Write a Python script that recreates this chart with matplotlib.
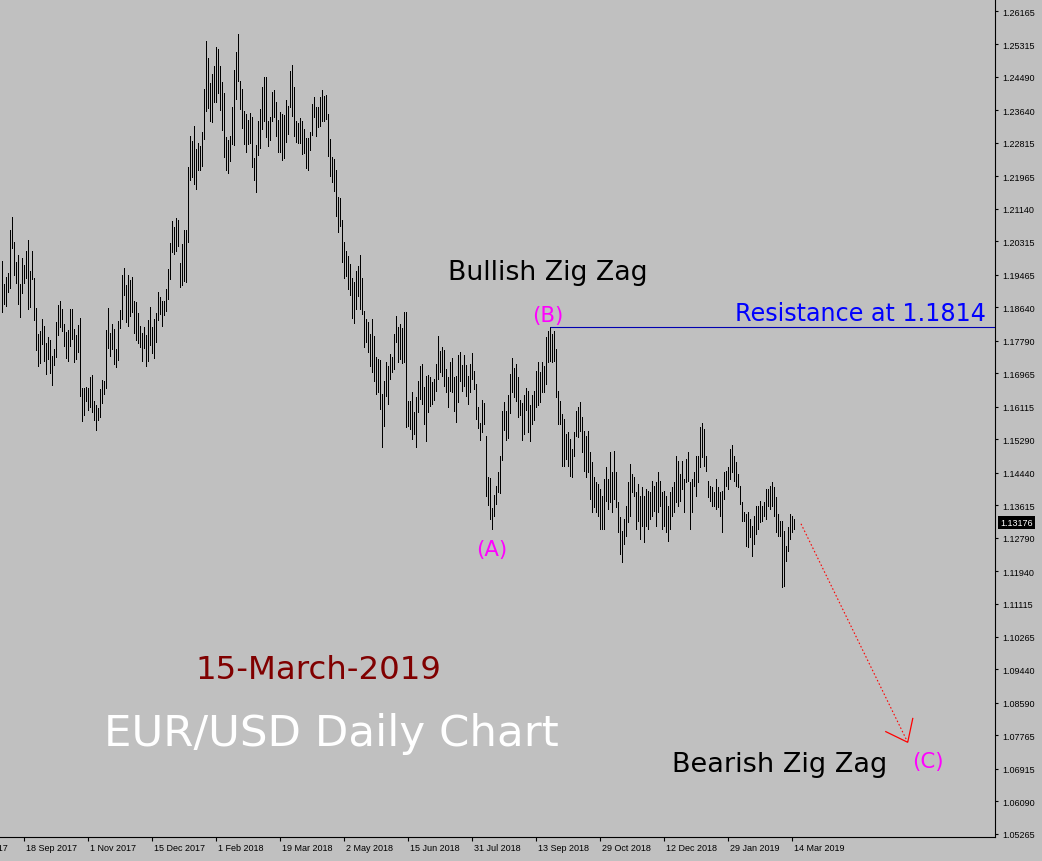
import numpy as np
import matplotlib
matplotlib.use("Agg")
import matplotlib.pyplot as plt
from matplotlib.transforms import ScaledTranslation, blended_transform_factory

# ---------------- data (daily bars, EUR/USD) ----------------
highs = [
    1.1982, 1.1923, 1.1941, 1.1951, 1.2060, 1.2094, 1.2029, 1.1979, 1.1997, 1.1923,
    1.1989, 1.1972, 1.2007, 1.2034, 1.1956, 1.2007, 1.1938, 1.1862, 1.1796, 1.1804,
    1.1834, 1.1816, 1.1773, 1.1789, 1.1780, 1.1740, 1.1758, 1.1826, 1.1870, 1.1880,
    1.1860, 1.1821, 1.1801, 1.1806, 1.1860, 1.1860, 1.1809, 1.1794, 1.1819, 1.1837,
    1.1659, 1.1659, 1.1662, 1.1659, 1.1687, 1.1692, 1.1626, 1.1616, 1.1608, 1.1656,
    1.1679, 1.1677, 1.1806, 1.1862, 1.1799, 1.1821, 1.1809, 1.1758, 1.1829, 1.1857,
    1.1946, 1.1964, 1.1921, 1.1946, 1.1933, 1.1941, 1.1880, 1.1877, 1.1850, 1.1816,
    1.1799, 1.1814, 1.1794, 1.1832, 1.1865, 1.1814, 1.1834, 1.1850, 1.1902, 1.1890,
    1.1880, 1.1880, 1.1910, 1.1961, 1.2027, 1.2083, 1.2068, 1.2091, 1.2086, 1.1977,
    1.2024, 1.2060, 1.2060, 1.2221, 1.2299, 1.2286, 1.2324, 1.2266, 1.2281, 1.2273,
    1.2309, 1.2418, 1.2540, 1.2497, 1.2434, 1.2456, 1.2477, 1.2525, 1.2520, 1.2477,
    1.2436, 1.2408, 1.2297, 1.2289, 1.2299, 1.2373, 1.2467, 1.2512, 1.2558, 1.2439,
    1.2418, 1.2363, 1.2355, 1.2340, 1.2358, 1.2348, 1.2243, 1.2276, 1.2337, 1.2368,
    1.2424, 1.2449, 1.2449, 1.2337, 1.2348, 1.2410, 1.2416, 1.2385, 1.2340, 1.2360,
    1.2355, 1.2353, 1.2390, 1.2375, 1.2464, 1.2480, 1.2424, 1.2337, 1.2332, 1.2345,
    1.2337, 1.2317, 1.2294, 1.2294, 1.2309, 1.2380, 1.2398, 1.2373, 1.2373, 1.2398,
    1.2416, 1.2400, 1.2403, 1.2355, 1.2291, 1.2246, 1.2241, 1.2212, 1.2144, 1.2141,
    1.2086, 1.2029, 1.2007, 1.1994, 1.1974, 1.1938, 1.1928, 1.1956, 1.1969, 1.1997,
    1.1938, 1.1855, 1.1834, 1.1826, 1.1796, 1.1834, 1.1791, 1.1738, 1.1733, 1.1730,
    1.1643, 1.1677, 1.1725, 1.1715, 1.1745, 1.1738, 1.1796, 1.1842, 1.1814, 1.1821,
    1.1811, 1.1852, 1.1852, 1.1626, 1.1626, 1.1648, 1.1598, 1.1636, 1.1677, 1.1715,
    1.1720, 1.1662, 1.1689, 1.1692, 1.1687, 1.1674, 1.1682, 1.1720, 1.1791, 1.1753,
    1.1763, 1.1755, 1.1707, 1.1687, 1.1725, 1.1735, 1.1687, 1.1689, 1.1743, 1.1750,
    1.1718, 1.1743, 1.1718, 1.1689, 1.1720, 1.1748, 1.1702, 1.1669, 1.1611, 1.1570,
    1.1628, 1.1621, 1.1537, 1.1433, 1.1430, 1.1354, 1.1387, 1.1410, 1.1445, 1.1486,
    1.1601, 1.1623, 1.1601, 1.1641, 1.1694, 1.1735, 1.1710, 1.1720, 1.1687, 1.1628,
    1.1621, 1.1641, 1.1659, 1.1651, 1.1616, 1.1641, 1.1651, 1.1702, 1.1725, 1.1699,
    1.1725, 1.1715, 1.1789, 1.1804, 1.1814, 1.1796, 1.1804, 1.1758, 1.1651, 1.1626,
    1.1593, 1.1580, 1.1542, 1.1547, 1.1529, 1.1504, 1.1547, 1.1601, 1.1611, 1.1623,
    1.1586, 1.1550, 1.1537, 1.1550, 1.1496, 1.1471, 1.1433, 1.1420, 1.1415, 1.1402,
    1.1384, 1.1428, 1.1458, 1.1428, 1.1496, 1.1445, 1.1499, 1.1445, 1.1369, 1.1332,
    1.1296, 1.1326, 1.1359, 1.1420, 1.1466, 1.1440, 1.1433, 1.1394, 1.1415, 1.1384,
    1.1408, 1.1384, 1.1402, 1.1397, 1.1394, 1.1423, 1.1410, 1.1420, 1.1445, 1.1423,
    1.1394, 1.1397, 1.1384, 1.1359, 1.1394, 1.1408, 1.1420, 1.1486, 1.1474, 1.1440,
    1.1474, 1.1428, 1.1479, 1.1496, 1.1420, 1.1428, 1.1445, 1.1486, 1.1486, 1.1560,
    1.1570, 1.1555, 1.1486, 1.1423, 1.1410, 1.1408, 1.1394, 1.1428, 1.1408, 1.1394,
    1.1397, 1.1445, 1.1448, 1.1458, 1.1504, 1.1514, 1.1486, 1.1471, 1.1440, 1.1410,
    1.1369, 1.1344, 1.1339, 1.1344, 1.1326, 1.1308, 1.1334, 1.1359, 1.1359, 1.1372,
    1.1359, 1.1369, 1.1402, 1.1402, 1.1410, 1.1420, 1.1408, 1.1382, 1.1339, 1.1321,
    1.1321, 1.1296, 1.1257, 1.1306, 1.1339, 1.1334, 1.1326,
]

lows = [
    1.1852, 1.1872, 1.1867, 1.1902, 1.1913, 1.2014, 1.1946, 1.1926, 1.1872, 1.1840,
    1.1900, 1.1926, 1.1938, 1.1860, 1.1865, 1.1936, 1.1832, 1.1755, 1.1715, 1.1723,
    1.1770, 1.1728, 1.1694, 1.1733, 1.1697, 1.1667, 1.1718, 1.1738, 1.1794, 1.1814,
    1.1804, 1.1765, 1.1735, 1.1728, 1.1765, 1.1783, 1.1725, 1.1733, 1.1750, 1.1638,
    1.1575, 1.1591, 1.1626, 1.1603, 1.1611, 1.1598, 1.1577, 1.1552, 1.1577, 1.1586,
    1.1621, 1.1643, 1.1659, 1.1760, 1.1740, 1.1758, 1.1720, 1.1713, 1.1730, 1.1811,
    1.1834, 1.1895, 1.1826, 1.1816, 1.1842, 1.1852, 1.1799, 1.1780, 1.1773, 1.1763,
    1.1728, 1.1760, 1.1715, 1.1728, 1.1768, 1.1748, 1.1735, 1.1775, 1.1832, 1.1847,
    1.1816, 1.1845, 1.1855, 1.1885, 1.1936, 1.2004, 1.1999, 1.2007, 1.2019, 1.1916,
    1.1921, 1.1931, 1.1928, 1.2029, 1.2187, 1.2195, 1.2177, 1.2164, 1.2212, 1.2212,
    1.2223, 1.2291, 1.2363, 1.2370, 1.2337, 1.2334, 1.2385, 1.2385, 1.2408, 1.2365,
    1.2314, 1.2246, 1.2212, 1.2205, 1.2236, 1.2278, 1.2276, 1.2393, 1.2439, 1.2368,
    1.2319, 1.2278, 1.2258, 1.2278, 1.2281, 1.2221, 1.2187, 1.2157, 1.2251, 1.2268,
    1.2317, 1.2337, 1.2297, 1.2273, 1.2289, 1.2337, 1.2348, 1.2299, 1.2258, 1.2258,
    1.2238, 1.2243, 1.2283, 1.2304, 1.2373, 1.2350, 1.2299, 1.2283, 1.2281, 1.2281,
    1.2253, 1.2256, 1.2218, 1.2212, 1.2263, 1.2302, 1.2348, 1.2299, 1.2322, 1.2324,
    1.2337, 1.2337, 1.2342, 1.2248, 1.2197, 1.2182, 1.2159, 1.2096, 1.2055, 1.2070,
    1.1979, 1.1938, 1.1943, 1.1910, 1.1895, 1.1837, 1.1824, 1.1860, 1.1892, 1.1860,
    1.1847, 1.1763, 1.1775, 1.1750, 1.1715, 1.1699, 1.1677, 1.1643, 1.1648, 1.1606,
    1.1509, 1.1562, 1.1638, 1.1618, 1.1682, 1.1699, 1.1707, 1.1775, 1.1725, 1.1733,
    1.1723, 1.1725, 1.1560, 1.1562, 1.1555, 1.1529, 1.1542, 1.1509, 1.1598, 1.1631,
    1.1618, 1.1567, 1.1524, 1.1598, 1.1613, 1.1618, 1.1628, 1.1651, 1.1682, 1.1699,
    1.1689, 1.1664, 1.1648, 1.1611, 1.1651, 1.1648, 1.1601, 1.1572, 1.1623, 1.1677,
    1.1651, 1.1664, 1.1638, 1.1618, 1.1648, 1.1682, 1.1656, 1.1580, 1.1557, 1.1527,
    1.1547, 1.1567, 1.1384, 1.1362, 1.1326, 1.1301, 1.1334, 1.1364, 1.1394, 1.1392,
    1.1476, 1.1552, 1.1527, 1.1532, 1.1596, 1.1648, 1.1636, 1.1626, 1.1586, 1.1591,
    1.1527, 1.1542, 1.1603, 1.1547, 1.1524, 1.1567, 1.1577, 1.1611, 1.1616, 1.1623,
    1.1648, 1.1648, 1.1669, 1.1725, 1.1728, 1.1725, 1.1728, 1.1636, 1.1567, 1.1567,
    1.1461, 1.1461, 1.1479, 1.1461, 1.1435, 1.1433, 1.1486, 1.1537, 1.1535, 1.1550,
    1.1496, 1.1448, 1.1433, 1.1445, 1.1377, 1.1344, 1.1357, 1.1344, 1.1334, 1.1301,
    1.1301, 1.1301, 1.1372, 1.1352, 1.1369, 1.1344, 1.1377, 1.1357, 1.1293, 1.1237,
    1.1217, 1.1262, 1.1283, 1.1318, 1.1334, 1.1394, 1.1384, 1.1301, 1.1321, 1.1275,
    1.1308, 1.1267, 1.1308, 1.1301, 1.1326, 1.1334, 1.1347, 1.1308, 1.1344, 1.1359,
    1.1301, 1.1308, 1.1293, 1.1270, 1.1301, 1.1334, 1.1344, 1.1369, 1.1359, 1.1372,
    1.1402, 1.1344, 1.1420, 1.1423, 1.1301, 1.1344, 1.1410, 1.1384, 1.1420, 1.1458,
    1.1484, 1.1461, 1.1448, 1.1382, 1.1372, 1.1359, 1.1359, 1.1352, 1.1357, 1.1334,
    1.1293, 1.1377, 1.1410, 1.1402, 1.1428, 1.1445, 1.1423, 1.1410, 1.1408, 1.1364,
    1.1321, 1.1321, 1.1257, 1.1255, 1.1280, 1.1232, 1.1262, 1.1288, 1.1301, 1.1318,
    1.1321, 1.1334, 1.1326, 1.1359, 1.1352, 1.1359, 1.1334, 1.1293, 1.1283, 1.1283,
    1.1154, 1.1156, 1.1220, 1.1245, 1.1275, 1.1293, 1.1301,
]

date_labels = ["18 Sep 2017", "1 Nov 2017", "15 Dec 2017", "1 Feb 2018",
               "19 Mar 2018", "2 May 2018", "15 Jun 2018", "31 Jul 2018",
               "13 Sep 2018", "29 Oct 2018", "12 Dec 2018", "29 Jan 2019",
               "14 Mar 2019"]
date_bars = [11, 43, 75, 107, 139, 171, 203, 235, 267, 299, 331, 363, 395]
cut_label, cut_label_bar = "3 Aug 2017", -21

price_ticks = [1.26165, 1.25315, 1.24490, 1.23640, 1.22815, 1.21965, 1.21140,
               1.20315, 1.19465, 1.18640, 1.17790, 1.16965, 1.16115, 1.15290,
               1.14440, 1.13615, 1.12790, 1.11940, 1.11115, 1.10265, 1.09440,
               1.08590, 1.07765, 1.06915, 1.06090, 1.05265]
price_tick_labels = ["%.5f" % v for v in price_ticks]

last_price = 1.13176
resistance = 1.1814
resistance_bar = 274
arrow_start = (399.75, 1.1314)
arrow_end = (453.1, 1.0759)

# ---------------- figure ----------------
BG = "#C0C0C0"
W, H, DPI = 1042, 862, 100
fig = plt.figure(figsize=(W / DPI, H / DPI), dpi=DPI, facecolor=BG)
ax = fig.add_axes([0, 24 / H, 995 / W, 838 / H])
ax.set_facecolor(BG)

x = np.arange(len(highs))
ax.vlines(x, lows, highs, colors="black", linewidth=0.72, antialiased=False)

ax.set_xlim(-0.75, 496.75)
ax.set_ylim(1.05185, 1.2647)

for s in ("left", "top"):
    ax.spines[s].set_visible(False)
for s in ("right", "bottom"):
    ax.spines[s].set_linewidth(0.8)
    ax.spines[s].set_color("black")

tick_font = dict(family=["Liberation Sans", "DejaVu Sans"], size=6.5)
ax.yaxis.tick_right()
ax.set_yticks(price_ticks)
ax.set_yticklabels(price_tick_labels, **tick_font)
ax.tick_params(axis="y", direction="out", length=2.5, width=0.8, pad=3.0,
               colors="black")

ax.set_xticks(date_bars)
ax.set_xticklabels(date_labels, **tick_font)
ax.tick_params(axis="x", direction="out", length=3.0, width=0.8, pad=1.5,
               colors="black")
offset = ScaledTranslation(3 / DPI, 0, fig.dpi_scale_trans)
for lbl in ax.get_xticklabels():
    lbl.set_horizontalalignment("left")
    lbl.set_transform(lbl.get_transform() + offset)

# first date label, partly outside the chart on the left (as in the original)
trans_x, va_x, _ = ax.get_xaxis_text1_transform(4.5)
ax.text(cut_label_bar, 0, cut_label, transform=trans_x + offset, va=va_x,
        ha="left", clip_on=False, **tick_font)

# current price marker
bt = blended_transform_factory(ax.transAxes, ax.transData)
ax.text(1.0, last_price, "%.5f" % last_price,
        transform=bt + ScaledTranslation(5.5 / DPI, 0, fig.dpi_scale_trans),
        ha="left", va="center", color="white", clip_on=False,
        bbox=dict(boxstyle="square,pad=0.25", fc="black", ec="none"),
        **tick_font)

# resistance line
ax.hlines(resistance, resistance_bar, ax.get_xlim()[1], colors="#0000B0",
          linewidth=0.8)

# texts
txt = dict(family=["DejaVu Sans"])
ax.text(223, 1.1936, "Bullish Zig Zag", color="black", fontsize=19.3,
        ha="left", va="baseline", **txt)
ax.text(492, 1.1832, "Resistance at 1.1814", color="#0000FF", fontsize=17.2,
        ha="right", va="baseline", **txt)
ax.text(273.2, 1.1829, "(B)", color="#FF00FF", fontsize=15.3,
        ha="center", va="baseline", **txt)
ax.text(245.2, 1.1235, "(A)", color="#FF00FF", fontsize=15.3,
        ha="center", va="baseline", **txt)
ax.text(463.2, 1.0696, "(C)", color="#FF00FF", fontsize=15.3,
        ha="center", va="baseline", **txt)
ax.text(335.3, 1.0686, "Bearish Zig Zag", color="black", fontsize=19.5,
        ha="left", va="baseline", **txt)
ax.text(97.0, 1.0922, "15-March-2019", color="#800000", fontsize=23.3,
        ha="left", va="baseline", **txt)
ax.text(51.5, 1.0752, "EUR/USD Daily Chart", color="white", fontsize=31.3,
        ha="left", va="baseline", **txt)

# dotted projection arrow
ax.plot([arrow_start[0], arrow_end[0]], [arrow_start[1], arrow_end[1]],
        color="red", linewidth=0.8, dashes=(1.4, 2.0))
p0 = ax.transData.transform(arrow_start)
p1 = ax.transData.transform(arrow_end)
d = (p0 - p1) / np.hypot(*(p0 - p1))
arm_len = 25.0
for ang in (np.deg2rad(38), np.deg2rad(-38)):
    rot = np.array([[np.cos(ang), -np.sin(ang)], [np.sin(ang), np.cos(ang)]])
    tip = p1 + arm_len * rot.dot(d)
    q = ax.transData.inverted().transform([p1, tip])
    ax.plot(q[:, 0], q[:, 1], color="red", linewidth=0.9, solid_capstyle="butt")

fig.savefig("out.png", dpi=DPI, facecolor=BG)
